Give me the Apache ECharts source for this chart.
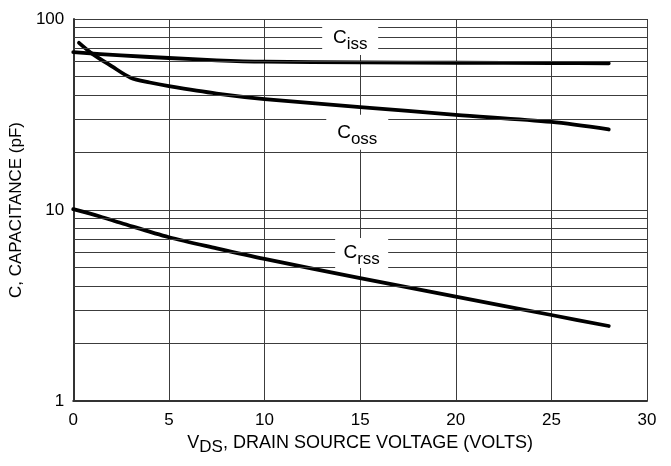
<!DOCTYPE html>
<html>
<head>
<meta charset="utf-8">
<script src="https://cdn.jsdelivr.net/npm/echarts@6/dist/echarts.min.js"></script>
<style>
html,body{margin:0;padding:0;background:#fff;}
#chart{width:671px;height:466px;}
</style>
</head>
<body>
<div id="chart"></div>
<script>
// ---- data ----
var xTicks = [0, 5, 10, 15, 20, 25, 30];
var yTicks = [1, 10, 100];
var minorGridValues = [2, 3, 4, 5, 6, 7, 8, 9, 20, 30, 40, 50, 60, 70, 80, 90];

var cissX = [0, 2.5, 5, 7.5, 10, 15, 20, 25, 28];
var cissY = [67, 64.5, 62.5, 60.8, 59.8, 59.3, 59.0, 58.8, 58.6];

var cossX = [0.3, 1, 2, 3, 4, 5, 7.5, 10, 15, 20, 25, 28];
var cossY = [75, 65.7, 56.7, 49.3, 46.5, 44.5, 40.7, 38.1, 34.6, 31.5, 28.9, 26.4];

var crssX = [0, 1.4, 2.5, 5, 7.5, 10, 15, 20, 25, 28];
var crssY = [10.1, 9.25, 8.55, 7.2, 6.3, 5.55, 4.4, 3.52, 2.82, 2.47];

var labelNames = ['iss', 'oss', 'rss'];
var labelX = [14.48, 14.85, 15.08];
var labelY = [80.0, 25.5, 5.95];

function zip(xs, ys) { return xs.map(function (x, i) { return [x, ys[i]]; }); }

var FONT = "'Liberation Sans', Arial, sans-serif";

var labelRich = {
  c: { fontSize: 19, lineHeight: 30, verticalAlign: 'middle', color: '#000', fontFamily: FONT },
  s: { fontSize: 17, lineHeight: 20, verticalAlign: 'bottom', color: '#000', fontFamily: FONT }
};
var boxSizes = [[56, 35], [62, 35], [53, 30]];

function curve(xs, ys, idx) {
  return {
    type: 'line',
    data: zip(xs, ys),
    smooth: 0.3,
    showSymbol: false,
    symbol: 'none',
    z: 3,
    lineStyle: { color: '#000', width: 3.8, cap: 'round', join: 'round' },
    markPoint: {
      silent: true,
      symbol: 'rect',
      symbolSize: boxSizes[idx],
      itemStyle: { color: '#fff' },
      label: {
        show: true,
        position: 'inside',
        formatter: '{c|C}{s|' + labelNames[idx] + '}',
        rich: labelRich
      },
      data: [{ coord: [labelX[idx], labelY[idx]] }]
    }
  };
}

var GRID_COLOR = '#3c3c3c';

var chart = echarts.init(document.getElementById('chart'), null, { renderer: 'canvas' });
chart.setOption({
  animation: false,
  backgroundColor: '#fff',
  grid: { left: 73, top: 19, right: 24, bottom: 65, containLabel: false },
  xAxis: {
    type: 'value',
    min: xTicks[0],
    max: xTicks[xTicks.length - 1],
    interval: 5,
    axisLine: { show: true, onZero: false, lineStyle: { color: '#333', width: 2 } },
    axisTick: { show: false },
    splitLine: { show: true, lineStyle: { color: GRID_COLOR, width: 1 } },
    axisLabel: { color: '#000', fontSize: 17, margin: 11, fontFamily: FONT },
    name: '{v|V}{s|DS}{v|, DRAIN SOURCE VOLTAGE (VOLTS)}',
    nameLocation: 'middle',
    nameGap: 29,
    nameTextStyle: {
      rich: {
        v: { fontSize: 18, lineHeight: 26, verticalAlign: 'middle', color: '#000', fontFamily: FONT },
        s: { fontSize: 17, lineHeight: 18, verticalAlign: 'bottom', color: '#000', fontFamily: FONT }
      }
    }
  },
  yAxis: {
    type: 'log',
    logBase: 10,
    min: yTicks[0],
    max: yTicks[yTicks.length - 1],
    axisLine: { show: true, lineStyle: { color: '#333', width: 2 } },
    axisTick: { show: false },
    minorTick: { show: false },
    splitLine: { show: true, lineStyle: { color: GRID_COLOR, width: 1 } },
    axisLabel: { color: '#000', fontSize: 17, margin: 9, fontFamily: FONT },
    name: 'C, CAPACITANCE (pF)',
    nameLocation: 'middle',
    nameGap: 46,
    nameTextStyle: { color: '#000', fontSize: 17, fontFamily: FONT }
  },
  series: [
    {
      type: 'line',
      data: [],
      z: 1,
      silent: true,
      markLine: {
        silent: true,
        symbol: 'none',
        label: { show: false },
        lineStyle: { color: GRID_COLOR, width: 1, type: 'solid' },
        emphasis: { disabled: true },
        data: minorGridValues.map(function (v) { return { yAxis: v }; })
      }
    },
    curve(cissX, cissY, 0),
    curve(cossX, cossY, 1),
    curve(crssX, crssY, 2)
  ]
});
</script>
</body>
</html>
